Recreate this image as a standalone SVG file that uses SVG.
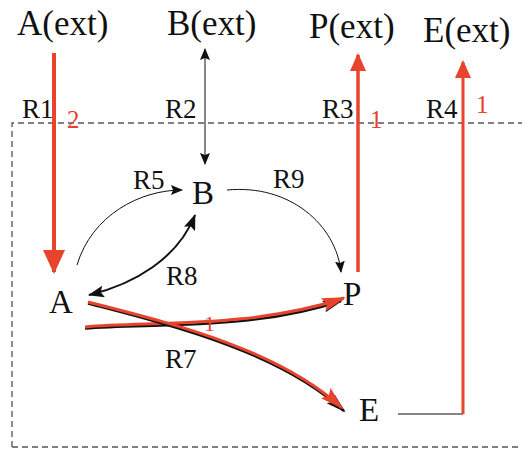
<svg xmlns="http://www.w3.org/2000/svg" width="522" height="450" viewBox="0 0 522 450">
<style>
.big{font-size:35px;fill:#111}
.node{font-size:33px;fill:#111}
.lbl{font-size:27px;fill:#111}
.num{font-size:25px;fill:#e5432e}
.red{stroke:#e8432c;fill:none}
.blk{stroke:#111;fill:none}
</style>
<defs>
<marker id="rbig" markerUnits="userSpaceOnUse" markerWidth="24" markerHeight="28" viewBox="0 0 24 28" refX="22" refY="12" orient="auto"><path d="M0,1 L24,12 L0,23 Z" fill="#e8432c"/></marker>
<marker id="rmed" markerUnits="userSpaceOnUse" markerWidth="18" markerHeight="18" viewBox="0 0 18 18" refX="16" refY="8" orient="auto"><path d="M0,0 L18,8 L0,16 Z" fill="#e8432c"/></marker>
<marker id="rcur" markerUnits="userSpaceOnUse" markerWidth="24" markerHeight="16" viewBox="0 0 24 16" refX="22" refY="8" orient="auto"><path d="M0,1 L24,8 L0,15 L4,8 Z" fill="#e8432c"/></marker>
<marker id="bcur" markerUnits="userSpaceOnUse" markerWidth="20" markerHeight="14" viewBox="0 0 20 14" refX="18" refY="7" orient="auto"><path d="M0,1 L20,7 L0,13 L4,7 Z" fill="#111"/></marker>
<marker id="bsm" markerUnits="userSpaceOnUse" markerWidth="12" markerHeight="10" viewBox="0 0 12 10" refX="11" refY="5" orient="auto"><path d="M0,0 L12,5 L0,10 L2,5 Z" fill="#111"/></marker>
<marker id="bsms" markerUnits="userSpaceOnUse" markerWidth="12" markerHeight="10" viewBox="0 0 12 10" refX="1" refY="5" orient="auto"><path d="M12,0 L0,5 L12,10 L10,5 Z" fill="#111"/></marker>
<marker id="bmid" markerUnits="userSpaceOnUse" markerWidth="16" markerHeight="12" viewBox="0 0 16 12" refX="15" refY="6" orient="auto"><path d="M0,0 L16,6 L0,12 L3,6 Z" fill="#111"/></marker>
<marker id="bmids" markerUnits="userSpaceOnUse" markerWidth="16" markerHeight="12" viewBox="0 0 16 12" refX="1" refY="6" orient="auto"><path d="M16,0 L0,6 L16,12 L13,6 Z" fill="#111"/></marker>
</defs>
<g id="system-boundary">
<path d="M12,447 L12,123 L522,123 M12,447 L522,447" fill="none" stroke="#555" stroke-width="1.3" stroke-dasharray="6,4"/>
</g>
<g id="connectors">
<line id="R1" x1="54" y1="53" x2="54" y2="272" class="red" stroke-width="4" marker-end="url(#rbig)"/>
<line id="R2" x1="205" y1="49" x2="205" y2="164" class="blk" stroke-width="1" marker-start="url(#bsms)" marker-end="url(#bsm)"/>
<line id="R3" x1="358" y1="272" x2="358" y2="55" class="red" stroke-width="3.5" marker-end="url(#rmed)"/>
<path id="R4" d="M398,414 L463,414" class="blk" stroke="#444" stroke-width="1.2"/>
<line x1="463" y1="414" x2="463" y2="62" class="red" stroke-width="3" marker-end="url(#rmed)"/>
<path id="R5" d="M77,265 C 92,215 140,190 182,190" class="blk" stroke="#333" stroke-width="1" marker-end="url(#bsm)"/>
<path id="R8" d="M89,295 C 135,284 178,258 195,215" class="blk" stroke-width="2" marker-start="url(#bmids)" marker-end="url(#bmid)"/>
<path id="R9" d="M227,190 C 290,184 336,225 341,272" class="blk" stroke="#333" stroke-width="1" marker-end="url(#bsm)"/>
<path id="R6b" d="M85,328.5 C 150,323 250,331 341,301" class="blk" stroke-width="2.5" marker-end="url(#bcur)"/>
<path id="R6" d="M85,327 C 150,321 250,329 344,298" class="red" stroke-width="3" marker-end="url(#rcur)"/>
<path id="R7b" d="M88,303.5 C 170,325 278,351 344,411" class="blk" stroke-width="2.5" marker-end="url(#bcur)"/>
<path id="R7" d="M88,302 C 170,323 278,349 342,408" class="red" stroke-width="3" marker-end="url(#rcur)"/>
</g>
<g id="n-Aext"><text class="big" x="17" y="35" font-family="Liberation Serif" style="font-family:'Liberation Serif',serif">A(ext)</text></g>
<g id="n-Bext"><text class="big" x="167" y="35" font-family="Liberation Serif" style="font-family:'Liberation Serif',serif">B(ext)</text></g>
<g id="n-Pext"><text class="big" x="309" y="38" font-family="Liberation Serif" style="font-family:'Liberation Serif',serif">P(ext)</text></g>
<g id="n-Eext"><text class="big" x="423" y="42" font-family="Liberation Serif" style="font-family:'Liberation Serif',serif">E(ext)</text></g>
<g id="n-A"><text class="node" x="49" y="313" font-family="Liberation Serif" style="font-family:'Liberation Serif',serif">A</text></g>
<g id="n-B"><text class="node" x="192" y="204" font-family="Liberation Serif" style="font-family:'Liberation Serif',serif">B</text></g>
<g id="n-P"><text class="node" x="343" y="305" font-family="Liberation Serif" style="font-family:'Liberation Serif',serif">P</text></g>
<g id="n-E"><text class="node" x="359" y="421" font-family="Liberation Serif" style="font-family:'Liberation Serif',serif">E</text></g>
<g id="labels">
<text class="lbl" x="22" y="118" font-family="Liberation Serif" style="font-family:'Liberation Serif',serif">R1</text>
<text class="lbl" x="165" y="118" font-family="Liberation Serif" style="font-family:'Liberation Serif',serif">R2</text>
<text class="lbl" x="322" y="118" font-family="Liberation Serif" style="font-family:'Liberation Serif',serif">R3</text>
<text class="lbl" x="426" y="118" font-family="Liberation Serif" style="font-family:'Liberation Serif',serif">R4</text>
<text class="lbl" x="133" y="189" font-family="Liberation Serif" style="font-family:'Liberation Serif',serif">R5</text>
<text class="lbl" x="273" y="188" font-family="Liberation Serif" style="font-family:'Liberation Serif',serif">R9</text>
<text class="lbl" x="166" y="285" font-family="Liberation Serif" style="font-family:'Liberation Serif',serif">R8</text>
<text class="lbl" x="165" y="368" font-family="Liberation Serif" style="font-family:'Liberation Serif',serif">R7</text>
<text class="num" x="67" y="128" font-family="Liberation Serif" style="font-family:'Liberation Serif',serif">2</text>
<text class="num" x="370" y="128" font-family="Liberation Serif" style="font-family:'Liberation Serif',serif">1</text>
<text class="num" x="476" y="113" font-family="Liberation Serif" style="font-family:'Liberation Serif',serif">1</text>
<text class="num" x="204" y="331" font-family="Liberation Serif" style="font-family:'Liberation Serif',serif;font-size:22px">1</text>
</g>
</svg>
